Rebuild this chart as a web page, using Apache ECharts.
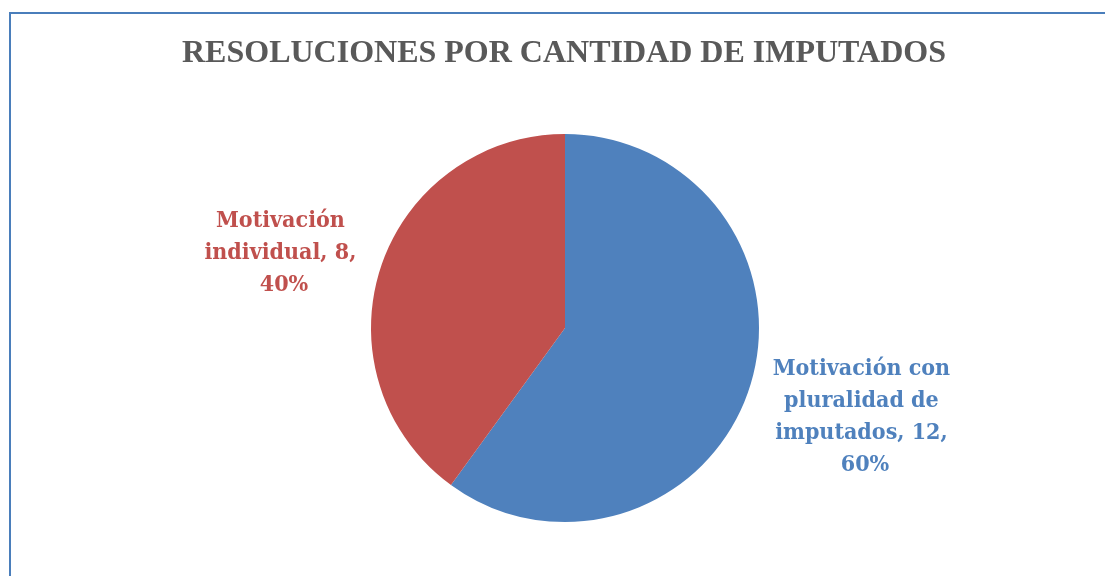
<!DOCTYPE html>
<html>
<head>
<meta charset="utf-8">
<script src="https://cdn.jsdelivr.net/npm/echarts@6/dist/echarts.min.js"></script>
<style>
  html, body { margin: 0; padding: 0; background: #ffffff; }
  #chart { width: 1105px; height: 576px; }
</style>
</head>
<body>
<div id="chart"></div>
<script>
// Resolutions grouped by number of accused
const chartTitle = 'RESOLUCIONES POR CANTIDAD DE IMPUTADOS';
const categories = ['Motivación con pluralidad de imputados', 'Motivación individual'];
const values = [12, 8];
const colors = ['#4f81bd', '#c0504d'];

const chart = echarts.init(document.getElementById('chart'), null, { renderer: 'canvas' });

const labelFont = '"DejaVu Serif Condensed", "DejaVu Serif", serif';

chart.setOption({
  animation: false,
  backgroundColor: '#ffffff',
  title: {
    text: chartTitle,
    left: 177,
    top: 33,
    textStyle: {
      fontFamily: '"Liberation Serif", "Times New Roman", serif',
      fontWeight: 'bold',
      fontSize: 32,
      color: '#595959'
    }
  },
  graphic: [
    {
      type: 'polyline',
      shape: { points: [[10, 600], [10, 13], [1110, 13]] },
      style: { stroke: '#4a7ebb', lineWidth: 2, fill: null }
    }
  ],
  series: [
    {
      type: 'pie',
      center: [565, 328],
      radius: 194,
      startAngle: 90,
      clockwise: true,
      data: categories.map((name, i) => ({
        name: name,
        value: values[i],
        itemStyle: { color: colors[i] },
        label: { color: colors[i], width: i === 0 ? 195 : 165 }
      })),
      label: {
        show: true,
        position: 'outside',
        formatter: '{b}, {c}, {d}%',
        fontFamily: labelFont,
        fontWeight: 'bold',
        fontSize: 23,
        lineHeight: 32,
        align: 'center',
        overflow: 'break'
      },
      labelLine: { show: false },
      labelLayout: function (params) {
        // place the two labels beside the pie
        if (params.dataIndex === 0) {
          return { x: 865, y: 417, align: 'center', verticalAlign: 'middle' };
        }
        return { x: 284, y: 253, align: 'center', verticalAlign: 'middle' };
      },
      emphasis: { disabled: true }
    }
  ]
});
</script>
</body>
</html>
